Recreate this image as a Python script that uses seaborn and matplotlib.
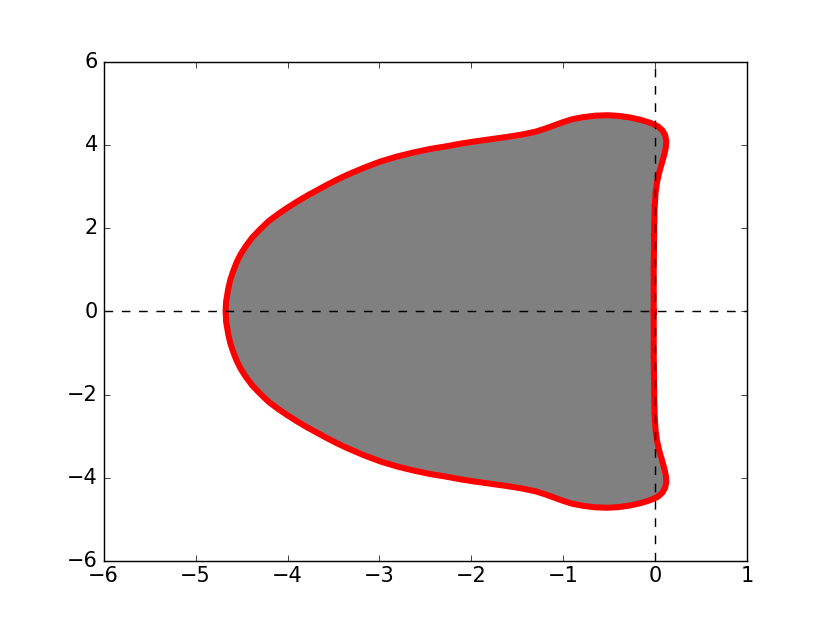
import numpy as np
import pandas as pd
from matplotlib import pyplot as plt
import seaborn as sns

# upper half of the boundary, from the imaginary axis round to the left tip
upper_x = [-0.015, -0.015, -0.01, -0.005, 0.005, 0.02, 0.045, 0.075, 0.1, 0.117,
           0.122, 0.11, 0.08, 0.03, -0.05, -0.15, -0.27, -0.4, -0.52, -0.65,
           -0.78, -0.9, -1.0, -1.1, -1.2, -1.3, -1.45, -1.62, -1.8, -1.975,
           -2.12, -2.264, -2.445, -2.627, -2.81, -2.99, -3.17, -3.35, -3.46, -3.57,
           -3.786, -3.893, -4.0, -4.1, -4.203, -4.298, -4.384, -4.452, -4.51, -4.555,
           -4.59, -4.622, -4.645, -4.668, -4.674]
upper_y = [0.0, 1.0, 2.0, 2.5, 2.85, 3.1, 3.35, 3.58, 3.78, 3.95,
           4.1, 4.24, 4.36, 4.46, 4.54, 4.61, 4.67, 4.71, 4.725, 4.715,
           4.68, 4.63, 4.56, 4.48, 4.40, 4.33, 4.26, 4.20, 4.145, 4.09,
           4.04, 3.98, 3.915, 3.83, 3.73, 3.61, 3.46, 3.29, 3.175, 3.05,
           2.79, 2.65, 2.50, 2.35, 2.18, 1.98, 1.78, 1.58, 1.38, 1.18,
           0.98, 0.77, 0.55, 0.25, 0.0]

# lower half, from the left tip back to the imaginary axis
lower_x = [-4.668, -4.645, -4.622, -4.59, -4.555, -4.51, -4.452, -4.384, -4.298, -4.203,
           -4.1, -4.0, -3.893, -3.786, -3.57, -3.46, -3.35, -3.17, -2.99, -2.81,
           -2.627, -2.445, -2.264, -2.12, -1.975, -1.8, -1.62, -1.45, -1.3, -1.2,
           -1.1, -1.0, -0.9, -0.78, -0.65, -0.52, -0.4, -0.27, -0.15, -0.05,
           0.03, 0.08, 0.11, 0.122, 0.117, 0.1, 0.075, 0.045, 0.02, 0.005,
           -0.005, -0.01, -0.015, -0.015]
lower_y = [-0.25, -0.55, -0.77, -0.98, -1.18, -1.38, -1.58, -1.78, -1.98, -2.18,
           -2.35, -2.50, -2.65, -2.79, -3.05, -3.175, -3.29, -3.46, -3.61, -3.73,
           -3.83, -3.915, -3.98, -4.04, -4.09, -4.145, -4.20, -4.26, -4.33, -4.40,
           -4.48, -4.56, -4.63, -4.68, -4.715, -4.725, -4.71, -4.67, -4.61, -4.54,
           -4.46, -4.36, -4.24, -4.1, -3.95, -3.78, -3.58, -3.35, -3.1, -2.85,
           -2.5, -2.0, -1.0, 0.0]

xticks = [-6, -5, -4, -3, -2, -1, 0, 1]
yticks = [-6, -4, -2, 0, 2, 4, 6]

plt.style.use('classic')

df = pd.DataFrame({'x': upper_x + lower_x, 'y': upper_y + lower_y})

fig, ax = plt.subplots(figsize=(8, 6.005), dpi=103.75)
ax.fill(df['x'], df['y'], color='0.5', zorder=1)
sns.lineplot(data=df, x='x', y='y', sort=False, estimator=None, color='red',
             linewidth=4.2, ax=ax, zorder=2, solid_joinstyle='round')
ax.axhline(0, color='k', linestyle='--', linewidth=1, zorder=3)
ax.axvline(0, color='k', linestyle='--', linewidth=1, zorder=3)

ax.set_xlim(-6, 1)
ax.set_ylim(-6, 6)
ax.set_xticks(xticks)
ax.set_yticks(yticks)
ax.set_xticklabels(['\u2212' + str(-t) if t < 0 else str(t) for t in xticks])
ax.set_yticklabels(['\u2212' + str(-t) if t < 0 else str(t) for t in yticks])
ax.tick_params(labelsize=14.5)
ax.set_xlabel('')
ax.set_ylabel('')

plt.savefig('out.png', dpi=103.75, facecolor='white')
